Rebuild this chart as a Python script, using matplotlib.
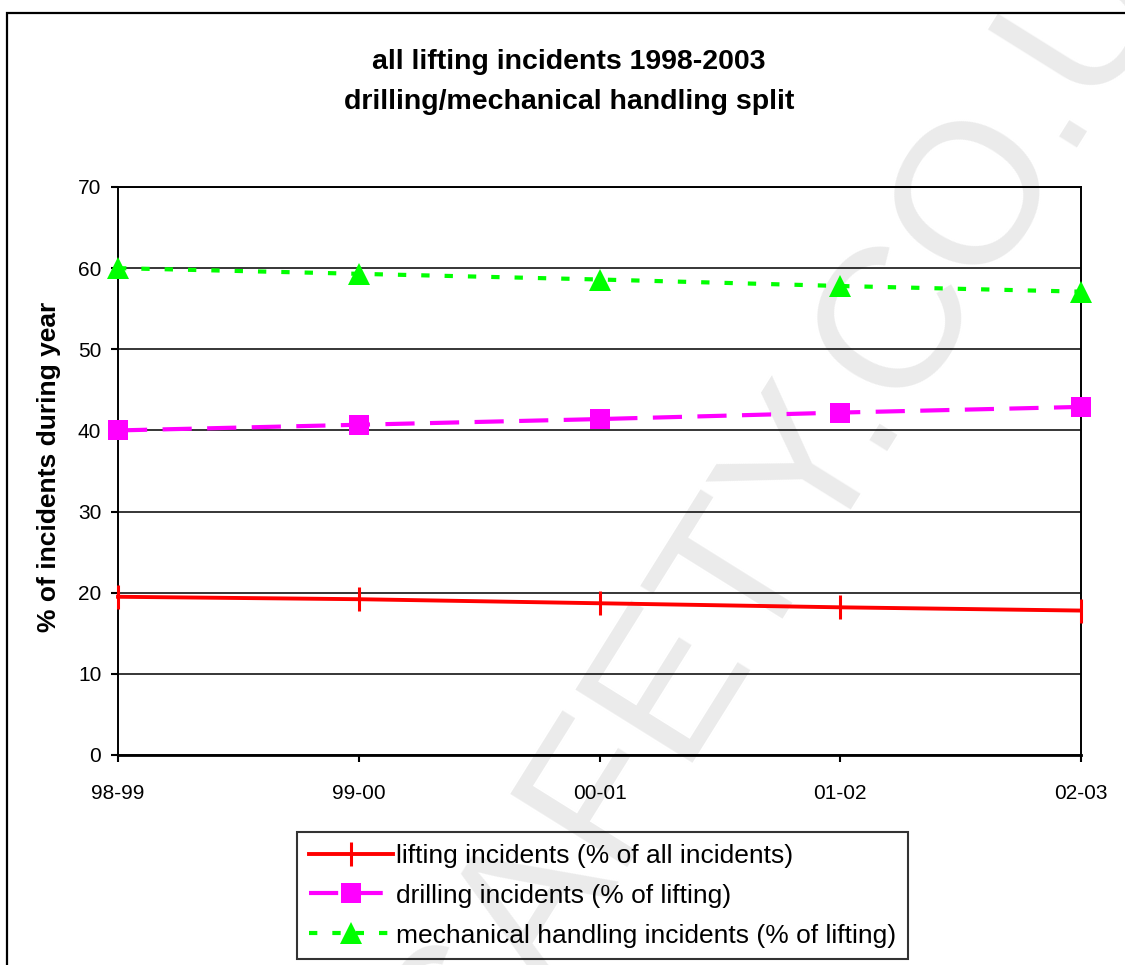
import matplotlib
matplotlib.use('Agg')
import matplotlib.pyplot as plt
from matplotlib.patches import Rectangle

plt.rcParams['font.family'] = ['Liberation Sans', 'DejaVu Sans']

# dados das series
anos = ['98-99', '99-00', '00-01', '01-02', '02-03']
lifting = [19.5, 19.2, 18.7, 18.2, 17.8]
drilling = [40.0, 40.7, 41.4, 42.2, 42.9]
mechanical = [60.0, 59.3, 58.6, 57.8, 57.1]

titulo1 = 'all lifting incidents 1998-2003'
titulo2 = 'drilling/mechanical handling split'

fig = plt.figure(figsize=(11.25, 9.65), dpi=100)

# moldura externa do grafico
fig.patches.append(Rectangle((7 / 1125, -0.05), 1.1, 1 - 13 / 965 + 0.05,
                             transform=fig.transFigure, fill=False,
                             edgecolor='black', linewidth=1.6, zorder=1))

# marca d'agua ao fundo (abaixo de tudo)
fig.text(814 / 1125, 1 - 457 / 965, 'SAFETY.CO.UK', rotation=58,
         rotation_mode='anchor', ha='center', va='center',
         fontsize=145, color='#ebebeb', zorder=-10)

ax = fig.add_axes([118 / 1125, 1 - 755 / 965, (1081 - 118) / 1125, (755 - 187) / 965])
ax.set_facecolor('none')
x = list(range(len(anos)))

ax.plot(x, lifting, color='#ff0000', linewidth=2.8, marker='|', markersize=17,
        markeredgewidth=2.2, clip_on=False, zorder=5,
        label='lifting incidents (% of all incidents)')
ax.plot(x, drilling, color='#ff00ff', linewidth=3, linestyle=(0, (7, 3.7)),
        marker='s', markersize=15, markeredgewidth=0, clip_on=False, zorder=5,
        label='drilling incidents (% of lifting)')
ax.plot(x, mechanical, color='#00ff00', linewidth=3, linestyle=(0, (2, 3.6)),
        marker='^', markersize=16, markeredgewidth=0, clip_on=False, zorder=5,
        label='mechanical handling incidents (% of lifting)')

ax.set_xlim(0, 4)
ax.set_ylim(0, 70)
ax.set_yticks(range(0, 71, 10))
ax.set_xticks(x)
ax.set_xticklabels(anos)
ax.yaxis.grid(True, color='black', linewidth=1.1)
ax.set_axisbelow(True)
ax.tick_params(axis='both', labelsize=15, length=5, width=1.5, color='black')
ax.tick_params(axis='y', pad=7)
ax.tick_params(axis='x', pad=16)
for lado in ['left', 'top', 'right']:
    ax.spines[lado].set_linewidth(1.4)
ax.spines['bottom'].set_linewidth(2)

fig.text(569 / 1125, 1 - 62 / 965, titulo1, ha='center', va='center',
         fontsize=20.5, fontweight='bold')
fig.text(569 / 1125, 1 - 102 / 965, titulo2, ha='center', va='center',
         fontsize=20.5, fontweight='bold')
fig.text(49 / 1125, 1 - 467 / 965, '% of incidents during year', rotation=90,
         ha='center', va='center', fontsize=19, fontweight='bold')

leg = fig.legend(loc='upper left', bbox_to_anchor=(297 / 1125, 1 - 832 / 965),
                 fontsize=19, handlelength=3.2, handletextpad=0.1,
                 labelspacing=0.6, borderpad=0.45, borderaxespad=0,
                 fancybox=False, facecolor='none', edgecolor='black',
                 numpoints=1)
leg.get_frame().set_linewidth(1.5)

plt.savefig('out.png', dpi=100)
